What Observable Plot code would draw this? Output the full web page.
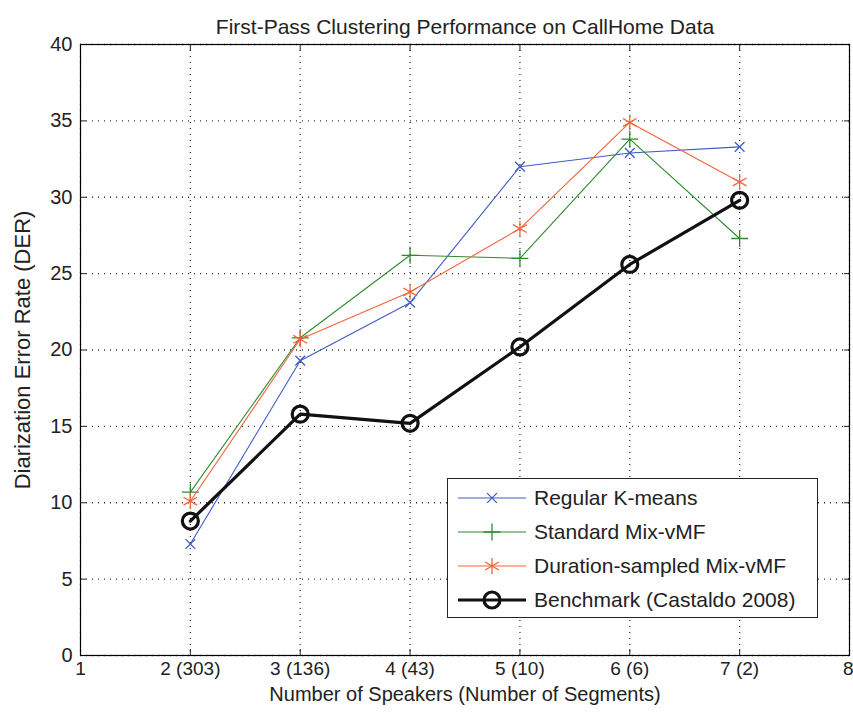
<!DOCTYPE html>
<html><head><meta charset="utf-8">
<script src="https://cdn.jsdelivr.net/npm/d3@7"></script>
<script src="https://cdn.jsdelivr.net/npm/@observablehq/plot@0.6"></script>
<style>
body{margin:0;background:#fff;font-family:"Liberation Sans",Arial,sans-serif;}
#wrap{position:relative;width:853px;height:713px;overflow:hidden;}
#legend{position:absolute;left:447px;top:478px;width:369px;height:138px;border:1.5px solid #222;background:#fff;font-size:21px;color:#222;}
.row{position:absolute;left:8px;height:30px;display:flex;align-items:center;white-space:nowrap;}
.row svg{margin-right:6px;}
</style></head>
<body><div id="wrap"></div>
<script>
const speakers = [2, 3, 4, 5, 6, 7];
const kmeans   = [7.3, 19.3, 23.1, 32.0, 32.9, 33.3];
const mixvmf   = [10.7, 20.8, 26.2, 26.0, 33.8, 27.3];
const duration = [10.1, 20.7, 23.8, 27.95, 34.9, 31.0];
const benchmark= [8.8, 15.8, 15.2, 20.2, 25.6, 29.8];
const xTicks = [1, 2, 3, 4, 5, 6, 7, 8];
const xTickLabels = ["1", "2 (303)", "3 (136)", "4 (43)", "5 (10)", "6 (6)", "7 (2)", "8"];
const yTicks = [0, 5, 10, 15, 20, 25, 30, 35, 40];
const seriesNames = ["Regular K-means", "Standard Mix-vMF", "Duration-sampled Mix-vMF", "Benchmark (Castaldo 2008)"];
const seriesColors = ["#3f5bc4", "#2f8a2f", "#f2643a", "#111111"];
const seriesSymbols = ["times", "plus", "asterisk", "circle"];
const seriesR = [4.5, 5.5, 7.5, 8];

const allSeries = [kmeans, mixvmf, duration, benchmark];
const data = allSeries.flatMap((vals, i) => vals.map((v, j) => ({x: speakers[j], y: v, s: seriesNames[i]})));
const sub = name => data.filter(d => d.s === name);

const marks = [
  Plot.gridX(xTicks, {stroke: "#000", strokeOpacity: 0.8, strokeDasharray: "1,5", strokeWidth: 1.3}),
  Plot.gridY(yTicks, {stroke: "#000", strokeOpacity: 0.8, strokeDasharray: "1,5", strokeWidth: 1.3}),
  Plot.axisX({ticks: xTicks, tickFormat: d => xTickLabels[xTicks.indexOf(d)], tickSize: -6, tickPadding: 12, fontSize: 19, label: null}),
  Plot.axisX({anchor: "top", ticks: xTicks, tickSize: -6, tickFormat: () => "", label: null}),
  Plot.axisY({ticks: yTicks, tickSize: -6, tickPadding: 14, fontSize: 20, label: null}),
  Plot.axisY({anchor: "right", ticks: yTicks, tickSize: -6, tickFormat: () => "", label: null}),
  Plot.frame({stroke: "#000", strokeWidth: 1.2}),
];
seriesNames.forEach((name, i) => {
  const isB = i === 3;
  marks.push(Plot.line(sub(name), {x: "x", y: "y", stroke: seriesColors[i], strokeWidth: isB ? 3.2 : 1.1}));
  marks.push(Plot.dot(sub(name), {x: "x", y: "y", symbol: seriesSymbols[i], stroke: seriesColors[i], fill: "none", r: seriesR[i], strokeWidth: isB ? 3.2 : 1.3}));
});
marks.push(Plot.text(["First-Pass Clustering Performance on CallHome Data"], {frameAnchor: "top", dy: -25, fontSize: 21, fill: "#222"}));
marks.push(Plot.text(["Number of Speakers (Number of Segments)"], {frameAnchor: "bottom", dy: 45, fontSize: 20, fill: "#222"}));
marks.push(Plot.text(["Diarization Error Rate (DER)"], {frameAnchor: "left", textAnchor: "middle", dx: -58, rotate: -90, fontSize: 22, fill: "#222"}));

const chart = Plot.plot({
  width: 853, height: 713,
  marginTop: 44, marginBottom: 58, marginLeft: 80, marginRight: 4,
  style: {fontFamily: "'Liberation Sans', Arial, sans-serif", color: "#222", background: "#fff", overflow: "visible"},
  x: {domain: [1, 8]},
  y: {domain: [0, 40]},
  marks
});
const wrap = document.getElementById("wrap");
wrap.appendChild(chart);
// keep last x tick label ("8") inside the window
d3.select(chart).selectAll("text").filter(function() { return this.textContent === xTickLabels[xTickLabels.length - 1]; })
  .attr("text-anchor", "end").attr("dx", 4);

// Legend
const legend = document.createElement("div");
legend.id = "legend";
const ns = "http://www.w3.org/2000/svg";
seriesNames.forEach((name, i) => {
  const row = document.createElement("div");
  row.className = "row";
  row.style.top = (4 + i * 34) + "px";
  const sw = document.createElementNS(ns, "svg");
  sw.setAttribute("width", 72); sw.setAttribute("height", 30);
  const isB = i === 3;
  const ln = document.createElementNS(ns, "line");
  ln.setAttribute("x1", 2); ln.setAttribute("x2", 70); ln.setAttribute("y1", 15); ln.setAttribute("y2", 15);
  ln.setAttribute("stroke", seriesColors[i]); ln.setAttribute("stroke-width", isB ? 3.2 : 1.1);
  sw.appendChild(ln);
  const sym = {times: d3.symbolTimes, plus: d3.symbolPlus, asterisk: d3.symbolAsterisk, circle: d3.symbolCircle}[seriesSymbols[i]];
  const p = document.createElementNS(ns, "path");
  p.setAttribute("d", d3.symbol(sym, Math.PI * seriesR[i] * seriesR[i])());
  p.setAttribute("transform", "translate(36,15)");
  p.setAttribute("fill", "none"); p.setAttribute("stroke", seriesColors[i]); p.setAttribute("stroke-width", isB ? 3.2 : 1.3);
  sw.appendChild(p);
  row.appendChild(sw);
  const t = document.createElement("span");
  t.textContent = name;
  row.appendChild(t);
  legend.appendChild(row);
});
wrap.appendChild(legend);
</script></body></html>
